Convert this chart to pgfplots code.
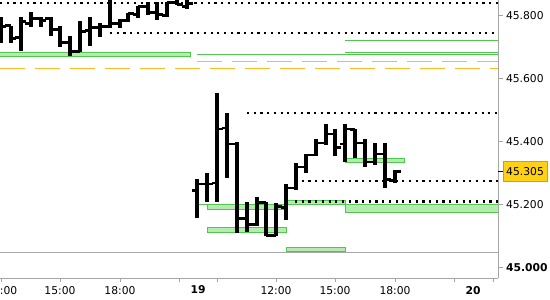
\documentclass[border=0pt]{standalone}
\usepackage{fontspec}
\setmainfont{DejaVu Sans}
\usepackage{pgfplots}
\usepackage{pgfplotstable}
\pgfplotsset{compat=1.18}
\definecolor{gb}{RGB}{80,200,80}
\definecolor{gf}{RGB}{182,234,176}
\definecolor{og}{RGB}{255,185,40}
\definecolor{gl}{RGB}{168,168,168}
\definecolor{axc}{RGB}{165,165,165}
\definecolor{yb}{RGB}{255,208,20}
\definecolor{yd}{RGB}{210,160,0}
\pgfdeclareplotmark{ohlcL}{\pgfpathmoveto{\pgfpoint{-5.5bp}{0bp}}\pgfpathlineto{\pgfpoint{0bp}{0bp}}\pgfusepathqstroke}
\pgfdeclareplotmark{ohlcR}{\pgfpathmoveto{\pgfpoint{0bp}{0bp}}\pgfpathlineto{\pgfpoint{5.5bp}{0bp}}\pgfusepathqstroke}
% open / close per bar
\pgfplotstableread{
x o c
1 45.740 45.765
11 45.768 45.727
21 45.730 45.781
31 45.774 45.790
41 45.790 45.784
51 45.790 45.755
60 45.755 45.714
70 45.714 45.685
80 45.685 45.749
90 45.752 45.762
100 45.762 45.765
110 45.765 45.774
120 45.774 45.784
128 45.784 45.806
138 45.803 45.829
148 45.829 45.810
157 45.810 45.803
167 45.800 45.841
177 45.841 45.835
187 45.830 45.840
197 45.245 45.265
207 45.265 45.265
217 45.268 45.440
227 45.443 45.392
237 45.392 45.156
247 45.156 45.137
257 45.137 45.207
266 45.207 45.102
276 45.102 45.194
286 45.191 45.252
296 45.252 45.319
306 45.319 45.357
316 45.357 45.395
326 45.395 45.424
335 45.424 45.382
345 45.392 45.440
355 45.437 45.395
365 45.395 45.335
375 45.335 45.360
385 45.360 45.280
395 45.277 45.305
}\oc
% low / high per bar (each bar: low, high, break)
\pgfplotstableread{
x y
1 45.714
1 45.797
1 nan
11 45.714
11 45.768
11 nan
21 45.688
21 45.797
21 nan
31 45.765
31 45.813
31 nan
41 45.765
41 45.797
41 nan
51 45.736
51 45.797
51 nan
60 45.701
60 45.768
60 nan
70 45.672
70 45.736
70 nan
80 45.685
80 45.784
80 nan
90 45.704
90 45.797
90 nan
100 45.733
100 45.778
100 nan
110 45.762
110 45.870
110 nan
120 45.762
120 45.790
120 nan
128 45.781
128 45.810
128 nan
138 45.794
138 45.832
138 nan
148 45.803
148 45.845
148 nan
157 45.787
157 45.845
157 nan
167 45.797
167 45.845
167 nan
177 45.835
177 45.870
177 nan
187 45.822
187 45.870
187 nan
197 45.156
197 45.280
197 nan
207 45.207
207 45.300
207 nan
217 45.207
217 45.553
217 nan
227 45.284
227 45.491
227 nan
237 45.108
237 45.398
237 nan
247 45.112
247 45.207
247 nan
257 45.131
257 45.223
257 nan
266 45.099
266 45.207
266 nan
276 45.099
276 45.204
276 nan
286 45.150
286 45.265
286 nan
296 45.245
296 45.331
296 nan
306 45.300
306 45.360
306 nan
316 45.354
316 45.408
316 nan
326 45.389
326 45.456
326 nan
335 45.354
335 45.440
335 nan
345 45.335
345 45.456
345 nan
355 45.347
355 45.440
355 nan
365 45.319
365 45.408
365 nan
375 45.325
375 45.395
375 nan
385 45.252
385 45.395
385 nan
395 45.268
395 45.308
}\hl
\begin{document}
\begin{tikzpicture}
\begin{axis}[name=ax, scale only axis, width=498bp, height=278bp,
  xmin=0, xmax=498, ymin=44.966, ymax=45.850,
  axis x line*=bottom, axis y line*=right,
  axis line style={axc, line width=1bp},
  tick align=outside, major tick length=4.5bp,
  tick style={axc, line width=0.8bp},
  xtick={1.8,60,120,179,217,276,335,395,454,493},
  xticklabels={12:00,15:00,18:00,{},{},12:00,15:00,18:00,{},{}},
  extra x ticks={198,473}, extra x tick labels={\textbf{19},\textbf{20}},
  extra x tick style={tick style={draw=none}},
  ytick={45,45.2,45.4,45.6,45.8},
  yticklabels={\textbf{45.000},45.200,45.400,45.600,45.800},
  extra y ticks={45.305}, extra y tick labels={45.305},
  extra y tick style={tick style={black}, yticklabel style={fill=yb, draw=yd, line width=0.8bp, minimum height=20bp}},
  tick label style={font=\fontsize{10.8}{12}\selectfont, text=black},
  yticklabel style={anchor=west},
  minor tick num=0,
  unbounded coords=jump,
]
% gray line
\addplot[gl, line width=1.2bp] coordinates {(0,45.048) (498,45.048)};
% orange dashed lines
\addplot[og, line width=1.2bp, dash pattern=on 25bp off 10bp] coordinates {(0,45.633) (498,45.633)};
\addplot[og, line width=1.2bp, dash pattern=on 25bp off 10bp] coordinates {(197,45.655) (498,45.655)};
% green lines
\addplot[gb, line width=1bp] coordinates {(197,45.677) (498,45.677)};
\addplot[gb, line width=1bp] coordinates {(345,45.684) (498,45.684)};
\addplot[gb, line width=1bp] coordinates {(345,45.720) (498,45.720)};
\addplot[gb, line width=1bp] coordinates {(197,45.201) (207,45.201)};
% green boxes
\addplot[draw=gb, fill=gf, line width=1bp] coordinates {(0,45.6846) (190,45.6846) (190,45.6696) (0,45.6696) (0,45.6846)};
\addplot[draw=gb, fill=gf, line width=1bp] coordinates {(207,45.200) (286,45.200) (286,45.184) (207,45.184) (207,45.200)};
\addplot[draw=gb, fill=gf, line width=1bp] coordinates {(207,45.127) (286,45.127) (286,45.111) (207,45.111) (207,45.127)};
\addplot[draw=gb, fill=gf, line width=1bp] coordinates {(286,45.212) (345,45.212) (345,45.200) (286,45.200) (286,45.212)};
\addplot[draw=gb, fill=gf, line width=1bp] coordinates {(345,45.200) (498,45.200) (498,45.175) (345,45.175) (345,45.200)};
\addplot[draw=gb, fill=gf, line width=1bp] coordinates {(345,45.347) (404,45.347) (404,45.334) (345,45.334) (345,45.347)};
\addplot[draw=gb, fill=gf, line width=1bp] coordinates {(286,45.064) (345,45.064) (345,45.050) (286,45.050) (286,45.064)};
% dotted lines
\addplot[black, line width=2.2bp, dash pattern=on 2.2bp off 4.5bp] coordinates {(0,45.841) (498,45.841)};
\addplot[black, line width=2.2bp, dash pattern=on 2.2bp off 4.5bp] coordinates {(110,45.744) (498,45.744)};
\addplot[black, line width=2.2bp, dash pattern=on 2.2bp off 4.5bp] coordinates {(247,45.491) (498,45.491)};
\addplot[black, line width=2.2bp, dash pattern=on 2.2bp off 4.5bp] coordinates {(295,45.275) (498,45.275)};
\addplot[black, line width=2.2bp, dash pattern=on 2.2bp off 4.5bp] coordinates {(295,45.209) (498,45.209)};
% OHLC bars: high-low ranges
\addplot[black, line width=3.4bp, line cap=butt] table[x=x, y=y] {\hl};
\addplot[only marks, mark=ohlcL, mark options={black, line width=2.8bp}] table[x=x, y=o] {\oc};
\addplot[only marks, mark=ohlcR, mark options={black, line width=2.8bp}] table[x=x, y=c] {\oc};
\end{axis}
\pgfresetboundingbox
\path[use as bounding box] ([yshift=-22bp]ax.south west) rectangle ([xshift=52bp]ax.north east);
\end{tikzpicture}
\end{document}
